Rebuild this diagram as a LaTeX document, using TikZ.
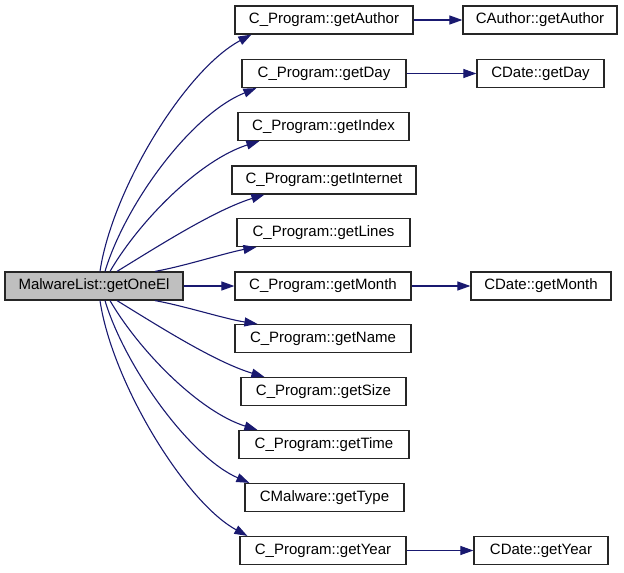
\documentclass[tikz,border=0pt]{standalone}
\usepackage{fontspec}
\setmainfont{Liberation Sans}
\usetikzlibrary{arrows.meta}
\definecolor{edgeblue}{HTML}{191970}
\definecolor{srcgray}{HTML}{BFBFBF}
\tikzset{
  fn/.style={draw=black!85, line width=1.2pt, fill=white, minimum height=28pt,
    inner sep=0pt, font=\fontsize{15}{18}\selectfont},
  srcfn/.style={fn, fill=srcgray},
  call/.style={draw=edgeblue, line width=1.1pt,
    -{Triangle[length=13pt,width=9pt]}}
}
\begin{document}
\begin{tikzpicture}[x=1pt,y=-1pt]
\useasboundingbox (0,0) rectangle (624,573);
\node[srcfn, minimum width=178pt] (src) at (94,286) {MalwareList::getOneEl};
\node[fn, minimum width=178pt] (pa) at (324,20) {C\_Program::getAuthor};
\node[fn, minimum width=154pt] (ca) at (540,20) {CAuthor::getAuthor};
\node[fn, minimum width=164pt] (pd) at (324,73.5) {C\_Program::getDay};
\node[fn, minimum width=127pt] (cd) at (540.5,73.5) {CDate::getDay};
\node[fn, minimum width=171pt] (pi) at (323.5,126.5) {C\_Program::getIndex};
\node[fn, minimum width=184pt] (pn) at (324,180) {C\_Program::getInternet};
\node[fn, minimum width=173pt] (pl) at (323.5,232.5) {C\_Program::getLines};
\node[fn, minimum width=176pt] (pm) at (323,286) {C\_Program::getMonth};
\node[fn, minimum width=140pt] (cm) at (541,286) {CDate::getMonth};
\node[fn, minimum width=176pt] (pna) at (323,338.5) {C\_Program::getName};
\node[fn, minimum width=165pt] (ps) at (323.5,391.5) {C\_Program::getSize};
\node[fn, minimum width=170pt] (pt) at (324,444.5) {C\_Program::getTime};
\node[fn, minimum width=159pt] (mt) at (324.5,497.5) {CMalware::getType};
\node[fn, minimum width=166pt] (py) at (323,550.5) {C\_Program::getYear};
\node[fn, minimum width=134pt] (cy) at (541,550.5) {CDate::getYear};

\draw[call] ([xshift=6pt]src.north) .. controls (112,190) and (185,70) .. ([xshift=17pt]pa.south west);
\draw[call] ([xshift=11pt]src.north) .. controls (125,205) and (190,115) .. ([xshift=15pt]pd.south west);
\draw[call] ([xshift=16pt]src.north) .. controls (140,220) and (200,160) .. ([xshift=22pt]pi.south west);
\draw[call] ([xshift=23pt]src.north) .. controls (160,245) and (215,210) .. ([xshift=33pt]pn.south west);
\draw[call] ([xshift=61pt]src.north) .. controls (185,266) and (225,253) .. ([xshift=20pt]pl.south west);
\draw[call] (src.east) -- (pm.west);
\draw[call] ([xshift=61pt]src.south) .. controls (185,306) and (225,319) .. ([xshift=23pt]pna.north west);
\draw[call] ([xshift=23pt]src.south) .. controls (160,327) and (215,362) .. ([xshift=24pt]ps.north west);
\draw[call] ([xshift=16pt]src.south) .. controls (140,352) and (200,412) .. ([xshift=19pt]pt.north west);
\draw[call] ([xshift=11pt]src.south) .. controls (125,367) and (190,457) .. ([xshift=5pt]mt.north west);
\draw[call] ([xshift=6pt]src.south) .. controls (112,382) and (185,502) .. ([xshift=8pt]py.north west);

\draw[call] (pa.east) -- (ca.west);
\draw[call] (pd.east) -- (cd.west);
\draw[call] (pm.east) -- (cm.west);
\draw[call] (py.east) -- (cy.west);
\end{tikzpicture}
\end{document}
